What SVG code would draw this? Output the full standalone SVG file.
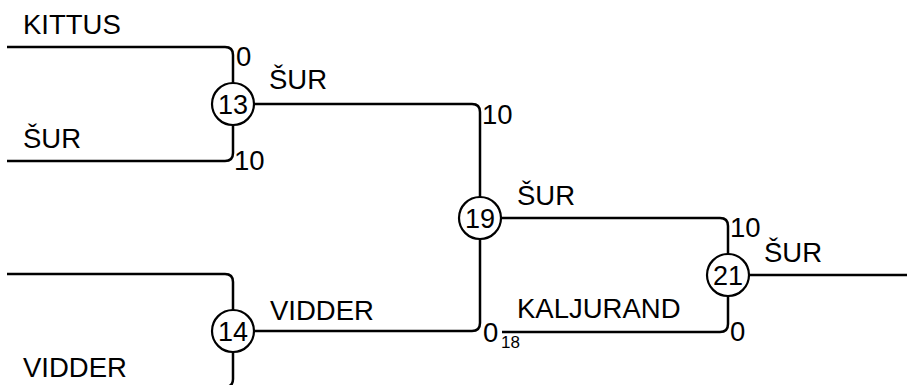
<svg xmlns="http://www.w3.org/2000/svg" width="907" height="385" viewBox="0 0 907 385">
<style>
.c{fill:none;stroke:#000;stroke-width:2.5}
.n{fill:#fff;stroke:#000;stroke-width:2.2}
text{font-family:"Liberation Sans",Arial,sans-serif;font-size:27.5px;fill:#000}
.num{text-anchor:middle;font-size:27px}
.s{font-size:17px}
</style>
<rect width="907" height="385" fill="#fff"/>
<g id="connectors">
<path class="c" d="M7,47 H225 Q233,47 233,55 V83"/>
<path class="c" d="M7,161 H225 Q233,161 233,153 V125"/>
<path class="c" d="M254,104 H472 Q480,104 480,112 V197"/>
<path class="c" d="M7,274 H225 Q233,274 233,282 V310"/>
<path class="c" d="M233,352 V379 Q233,387 225,387"/>
<path class="c" d="M254,331 H472 Q480,331 480,323 V239"/>
<path class="c" d="M501,218 H720 Q728,218 728,226 V254"/>
<path class="c" d="M502,332 H720 Q728,332 728,324 V296"/>
<path class="c" d="M749,275 H907"/>
</g>
<g id="labels">
<text x="23" y="34">KITTUS</text>
<text x="23" y="148">ŠUR</text>
<text x="236" y="66">0</text>
<text x="234" y="170">10</text>
<text x="269" y="89">ŠUR</text>
<text x="482" y="124">10</text>
<text x="517" y="205">ŠUR</text>
<text x="270" y="320">VIDDER</text>
<text x="483" y="342">0</text>
<text class="s" x="501" y="348">18</text>
<text x="517" y="318">KALJURAND</text>
<text x="730" y="237">10</text>
<text x="764" y="262">ŠUR</text>
<text x="730" y="341">0</text>
<text x="23" y="377">VIDDER</text>
</g>
<g id="n13"><circle class="n" cx="233" cy="104" r="21"/><text class="num" x="233" y="113.5">13</text></g>
<g id="n14"><circle class="n" cx="233" cy="331" r="21"/><text class="num" x="233" y="340.5">14</text></g>
<g id="n19"><circle class="n" cx="480" cy="218" r="21"/><text class="num" x="480" y="227.5">19</text></g>
<g id="n21"><circle class="n" cx="728" cy="275" r="21"/><text class="num" x="728" y="284.5">21</text></g>
</svg>
